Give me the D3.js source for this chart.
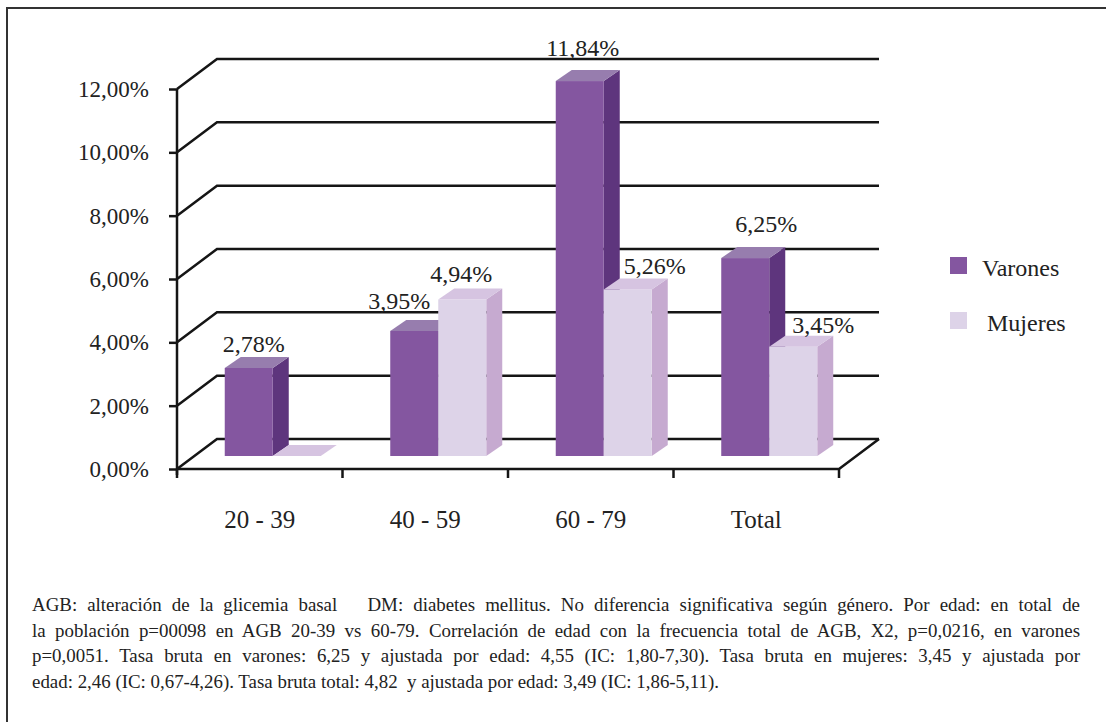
<!DOCTYPE html>
<html>
<head>
<meta charset="utf-8">
<title>AGB por edad y sexo</title>
<script src="https://cdn.jsdelivr.net/npm/d3@7"></script>
<style>
  body { margin: 0; background: #fff; }
  svg text { font-family: "Liberation Serif", "Times New Roman", serif; fill: #222; }
  .grid line, .grid path { stroke: #151515; stroke-width: 2.5; fill: none; }
  .note { white-space: pre; }
</style>
</head>
<body>
<svg width="1106" height="722"></svg>
<script>
// data
var categories = ["20 - 39", "40 - 59", "60 - 79", "Total"];
var varones = [2.78, 3.95, 11.84, 6.25];
var mujeres = [0, 4.94, 5.26, 3.45];
var seriesNames = ["Varones", "Mujeres"];
var yTicks = [0, 2, 4, 6, 8, 10, 12];
var notes = [
  "AGB: alteración de la glicemia basal   DM: diabetes mellitus. No diferencia significativa según género. Por edad: en total de",
  "la población p=00098 en AGB 20-39 vs 60-79. Correlación de edad con la frecuencia total de AGB, X2, p=0,0216, en varones",
  "p=0,0051. Tasa bruta en varones: 6,25 y ajustada por edad: 4,55 (IC: 1,80-7,30). Tasa bruta en mujeres: 3,45 y ajustada por",
  "edad: 2,46 (IC: 0,67-4,26). Tasa bruta total: 4,82  y ajustada por edad: 3,49 (IC: 1,86-5,11)."
];

// layout
var depth = { x: 40, y: -30 };      // wall depth
var barShift = { x: 13, y: -13 };   // bars stand a bit inside the floor
var barDepth = { x: 16, y: -11 };
var barW = 48;
var colors = {
  Varones: { front: "#8456a0", side: "#5e357d", top: "#977dae" },
  Mujeres: { front: "#ddd3e8", side: "#c6aad0", top: "#d6c4e1" }
};
// hand nudges for the value labels (as placed in the original)
var nudgeX = { Varones: [-3, -23, -5, 13], Mujeres: [0, -9, 19, 22] };
var nudgeY = { Varones: [3, -3, -6, -7], Mujeres: [0, 1, 4, 5] };

var fmt = function(v) { return d3.format(".2f")(v).replace(".", ",") + "%"; };

var svg = d3.select("svg");

// frame (cut at right and bottom)
svg.append("path")
  .attr("d", "M7,722 V8 H1106")
  .attr("fill", "none").attr("stroke", "#333").attr("stroke-width", 2);

var y = d3.scaleLinear().domain([0, 12]).range([469, 89]);
var x = d3.scaleBand().domain(categories).range([177, 839]);
var x0 = x.range()[0], x1 = x.range()[1];

var grid = svg.append("g").attr("class", "grid");

// back gridlines + left wall diagonals
grid.selectAll("path.g").data(yTicks).enter().append("path")
  .attr("class", "g")
  .attr("d", function(d) {
    return "M" + x0 + "," + y(d) + " L" + (x0 + depth.x) + "," + (y(d) + depth.y) +
      " H" + (x1 + depth.x);
  });

// floor front and right edge
grid.append("path")
  .attr("d", "M" + x0 + "," + y(0) + " H" + x1 + " L" + (x1 + depth.x) + "," + (y(0) + depth.y));

// y axis
var yAxis = d3.axisLeft(y).tickValues(yTicks).tickSize(8).tickSizeOuter(0).tickPadding(20)
  .tickFormat(fmt);
var ga = svg.append("g").attr("class", "grid").attr("transform", "translate(" + x0 + ",0)").call(yAxis);
ga.attr("font-family", null);
ga.select(".domain").attr("d", "M0," + (y(0) + 6) + " V" + y(12));
ga.selectAll("text").attr("font-size", 23).attr("dy", "0.32em").style("fill", "#222");

// x ticks at band edges
var edges = categories.map(function(c) { return x(c); }).concat([x1]);
grid.selectAll("line.xt").data(edges).enter().append("line")
  .attr("class", "xt")
  .attr("x1", function(d) { return d; }).attr("x2", function(d) { return d; })
  .attr("y1", y(0)).attr("y2", y(0) + 9);

// x labels
var xAxis = d3.axisBottom(x).tickSize(0).tickPadding(0);
var gx = svg.append("g").attr("transform", "translate(0," + (y(0) + 59) + ")").call(xAxis);
gx.attr("font-family", null);
gx.select(".domain").remove();
gx.selectAll("text").attr("font-size", 25).attr("dy", 0).style("fill", "#222");

// bars
var bars = [];
categories.forEach(function(c, i) {
  var cx = x(c) + x.bandwidth() / 2 + barShift.x;
  bars.push({ cat: c, i: i, s: "Varones", v: varones[i], left: cx - barW });
  bars.push({ cat: c, i: i, s: "Mujeres", v: mujeres[i], left: cx });
});

var base = y(0) + barShift.y;
function barTop(v) { return y(v) + barShift.y; }

var gb = svg.append("g").selectAll("g").data(bars).enter().append("g");

gb.append("path") // side
  .attr("fill", function(d) { return colors[d.s].side; })
  .attr("d", function(d) {
    var r = d.left + barW, t = barTop(d.v);
    return "M" + r + "," + base + " L" + (r + barDepth.x) + "," + (base + barDepth.y) +
      " L" + (r + barDepth.x) + "," + (t + barDepth.y) + " L" + r + "," + t + "Z";
  });
gb.append("rect") // front
  .attr("fill", function(d) { return colors[d.s].front; })
  .attr("x", function(d) { return d.left; })
  .attr("y", function(d) { return barTop(d.v); })
  .attr("width", barW)
  .attr("height", function(d) { return base - barTop(d.v); });
gb.append("path") // top
  .attr("fill", function(d) { return colors[d.s].top; })
  .attr("d", function(d) {
    var l = d.left, t = barTop(d.v);
    return "M" + l + "," + t + " L" + (l + barW) + "," + t +
      " L" + (l + barW + barDepth.x) + "," + (t + barDepth.y) +
      " L" + (l + barDepth.x) + "," + (t + barDepth.y) + "Z";
  });

// value labels
gb.filter(function(d) { return d.v > 0; }).append("text")
  .attr("text-anchor", "middle")
  .attr("font-size", 24)
  .attr("x", function(d) { return d.left + barW / 2 + barDepth.x / 2 + nudgeX[d.s][d.i]; })
  .attr("y", function(d) { return barTop(d.v) + barDepth.y - 8 + nudgeY[d.s][d.i]; })
  .text(function(d) { return fmt(d.v); });

// legend
var lg = svg.append("g").selectAll("g").data(seriesNames).enter().append("g")
  .attr("transform", function(d, i) { return "translate(950," + (257 + i * 55) + ")"; });
lg.append("rect").attr("width", 17).attr("height", 17)
  .attr("fill", function(d) { return colors[d].front; });
lg.append("text").attr("x", function(d, i) { return i ? 37 : 32; }).attr("y", 19)
  .attr("font-size", 24).text(function(d) { return d; });

// footnote, first three lines justified via word spacing
var noteW = 1048;
svg.append("g").selectAll("text").data(notes).enter().append("text")
  .attr("class", "note")
  .attr("x", 32)
  .attr("y", function(d, i) { return 611 + i * 25.7; })
  .attr("font-size", 18.9)
  .text(function(d) { return d; })
  .each(function(d, i) {
    if (i > 2) return;
    var w = this.getComputedTextLength();
    var gaps = d.split(" ").length - 1;
    if (w < noteW) d3.select(this).style("word-spacing", ((noteW - w) / gaps) + "px");
  });
</script>
</body>
</html>
